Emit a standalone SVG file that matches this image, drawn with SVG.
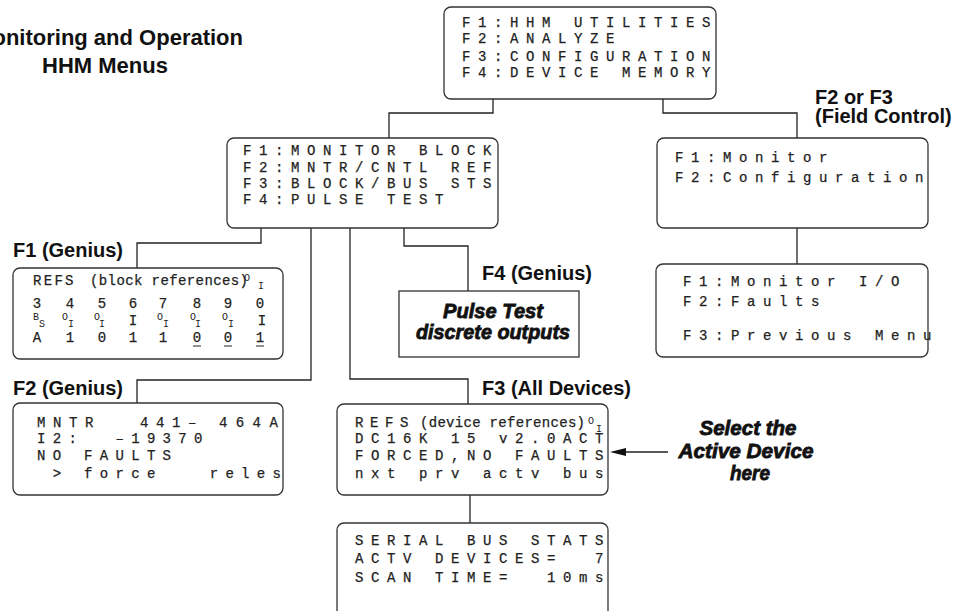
<svg xmlns="http://www.w3.org/2000/svg" width="953" height="611" viewBox="0 0 953 611">
<style>
.box{fill:#fff;stroke:#333;stroke-width:1.3}
.ln{fill:none;stroke:#222;stroke-width:1.3}
.lcd{font-family:"Liberation Mono","DejaVu Sans Mono",monospace;font-size:14px;letter-spacing:7.6px;fill:#222;stroke:#222;stroke-width:0.25}
.m{font-family:"Liberation Mono","DejaVu Sans Mono",monospace;font-size:14px;fill:#222;stroke:#222;stroke-width:0.25}
.sm{font-family:"Liberation Mono","DejaVu Sans Mono",monospace;font-size:10px;fill:#222}
.lbl{font-family:"Liberation Sans",Arial,sans-serif;font-size:20px;font-weight:bold;fill:#111}
.ttl{font-family:"Liberation Sans",Arial,sans-serif;font-size:22px;font-weight:bold;fill:#111}
.bi{font-family:"Liberation Sans",Arial,sans-serif;font-size:20px;font-weight:bold;font-style:italic;fill:#111;stroke:#111;stroke-width:0.8;text-anchor:middle}
</style>
<rect width="953" height="611" fill="#fff"/>

<g id="title">
<text class="ttl" x="243" y="45" text-anchor="end">Monitoring and Operation</text>
<text class="ttl" x="42" y="73">HHM Menus</text>
</g>

<g id="connectors">
<path class="ln" d="M493,99 V113 H389 V138"/>
<path class="ln" d="M663,99 V113 H797 V138"/>
<path class="ln" d="M797,228 V264"/>
<path class="ln" d="M261,228 V243 H137 V268"/>
<path class="ln" d="M311,228 V380 H137 V403"/>
<path class="ln" d="M350,228 V379 H468 V404"/>
<path class="ln" d="M404,228 V246 H468 V291"/>
<path class="ln" d="M470,495 V523"/>
<path class="ln" d="M668,452 H620"/>
<polygon points="610,452 626,448 626,456" fill="#111"/>
</g>

<g id="main-menu">
<rect class="box" x="444" y="7" width="272" height="92" rx="7"/>
<text class="lcd" x="462" y="27" xml:space="preserve">F1:HHM UTILITIES</text>
<text class="lcd" x="462" y="43" xml:space="preserve">F2:ANALYZE</text>
<text class="lcd" x="462" y="61" xml:space="preserve">F3:CONFIGURATION</text>
<text class="lcd" x="462" y="77" xml:space="preserve">F4:DEVICE MEMORY</text>
</g>

<g id="monitor-block">
<rect class="box" x="227" y="138" width="271" height="90" rx="7"/>
<text class="lcd" x="243" y="155" xml:space="preserve">F1:MONITOR BLOCK</text>
<text class="lcd" x="243" y="172" xml:space="preserve">F2:MNTR/CNTL REF</text>
<text class="lcd" x="243" y="188" xml:space="preserve">F3:BLOCK/BUS STS</text>
<text class="lcd" x="243" y="204" xml:space="preserve">F4:PULSE TEST</text>
</g>

<g id="field-control">
<text class="lbl" x="815" y="104">F2 or F3</text>
<text class="lbl" x="815" y="123">(Field Control)</text>
<rect class="box" x="657" y="138" width="271" height="90" rx="7"/>
<text class="lcd" x="675" y="162" xml:space="preserve">F1:Monitor</text>
<text class="lcd" x="675" y="182" xml:space="preserve">F2:Configuration</text>
</g>

<g id="monitor-io">
<rect class="box" x="656" y="264" width="272" height="93" rx="7"/>
<text class="lcd" x="683" y="286" xml:space="preserve">F1:Monitor I/O</text>
<text class="lcd" x="683" y="306" xml:space="preserve">F2:Faults</text>
<text class="lcd" x="683" y="340" xml:space="preserve">F3:Previous Menu</text>
</g>

<g id="f1-genius">
<text class="lbl" x="13" y="257">F1 (Genius)</text>
<rect class="box" x="13" y="268" width="270" height="91" rx="7"/>
<text class="m" x="33" y="285" style="letter-spacing:2.3px">REFS</text>
<text class="m" x="90" y="285" style="letter-spacing:0.4px">(block references)</text>
<text class="sm" x="244" y="281">O</text>
<text class="sm" x="258" y="289">I</text>
<text class="m" x="37 70 102 133 163 197 228 260" y="308" text-anchor="middle">34567890</text>
<text class="sm" x="36" y="320" text-anchor="middle">B</text>
<text class="sm" x="42" y="327" text-anchor="middle">S</text>
<text class="sm" x="65 97 160 193 225" y="320" text-anchor="middle">OOOOO</text>
<text class="sm" x="71 102 166 198 231" y="327" text-anchor="middle">IIIII</text>
<text class="m" x="133 262" y="325" text-anchor="middle">II</text>
<text class="m" x="37 70 102 133 163 197 228 260" y="342" text-anchor="middle">A1011001</text>
<path class="ln" d="M193,346 H201 M224,346 H232 M256,346 H264" style="stroke-width:1.2"/>
</g>

<g id="f4-genius">
<text class="lbl" x="482" y="280">F4 (Genius)</text>
<rect class="box" x="399" y="291" width="180" height="66"/>
<text class="bi" x="493" y="318" textLength="100" lengthAdjust="spacingAndGlyphs">Pulse Test</text>
<text class="bi" x="493" y="339" textLength="154" lengthAdjust="spacingAndGlyphs">discrete outputs</text>
</g>

<g id="f2-genius">
<text class="lbl" x="13" y="395">F2 (Genius)</text>
<rect class="box" x="13" y="403" width="270" height="92" rx="7"/>
<text class="lcd" x="37" y="427" xml:space="preserve">MNTR</text>
<text class="lcd" x="140" y="427" xml:space="preserve">441–</text>
<text class="lcd" x="219" y="427" style="letter-spacing:8.4px" xml:space="preserve">464A</text>
<text class="lcd" x="37" y="443" style="letter-spacing:7.3px" xml:space="preserve">I2:  –19370</text>
<text class="lcd" x="37" y="460" style="letter-spacing:7.3px" xml:space="preserve">NO FAULTS</text>
<text class="lcd" x="37" y="478" style="letter-spacing:7.3px" xml:space="preserve"> > force   reles</text>
</g>

<g id="f3-all-devices">
<text class="lbl" x="482" y="395">F3 (All Devices)</text>
<rect class="box" x="337" y="404" width="271" height="91" rx="7"/>
<text class="m" x="355" y="427" style="letter-spacing:6.6px">REFS</text>
<text class="m" x="420" y="427" style="letter-spacing:0.3px">(device references)</text>
<text class="sm" x="588" y="424">O</text>
<text class="sm" x="596" y="432">I</text>
<text class="lcd" x="355" y="443" xml:space="preserve">DC16K 15 v2.0ACT</text>
<text class="lcd" x="355" y="460" xml:space="preserve">FORCED,NO FAULTS</text>
<text class="lcd" x="355" y="478" xml:space="preserve">nxt prv actv bus</text>
</g>

<g id="select-note">
<text class="bi" x="748" y="435" textLength="97" lengthAdjust="spacingAndGlyphs">Select the</text>
<text class="bi" x="746" y="458" textLength="135" lengthAdjust="spacingAndGlyphs">Active Device</text>
<text class="bi" x="750" y="480" textLength="40" lengthAdjust="spacingAndGlyphs">here</text>
</g>

<g id="serial-bus-stats">
<rect class="box" x="337" y="523" width="271" height="110" rx="7"/>
<text class="lcd" x="355" y="545" xml:space="preserve">SERIAL BUS STATS</text>
<text class="lcd" x="355" y="563" xml:space="preserve">ACTV DEVICES=  7</text>
<text class="lcd" x="355" y="582" xml:space="preserve">SCAN TIME=  10ms</text>
</g>
</svg>
